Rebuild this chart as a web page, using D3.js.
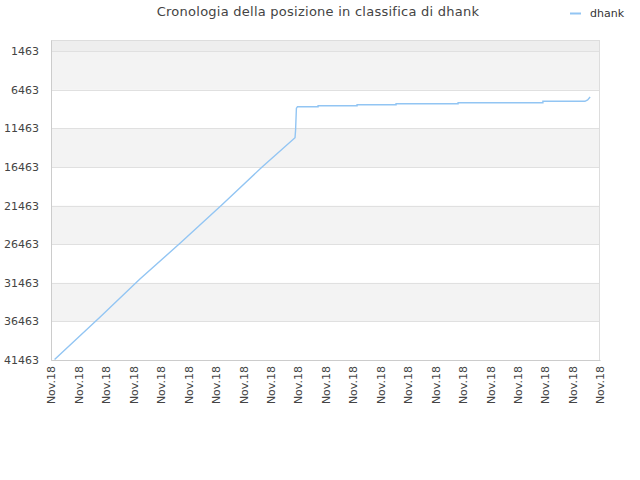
<!DOCTYPE html>
<html>
<head>
<meta charset="utf-8">
<script src="https://cdn.jsdelivr.net/npm/d3@7"></script>
<style>
  body { margin: 0; background: #fff; }
  text { font-family: "DejaVu Sans", sans-serif; }
</style>
</head>
<body>
<div id="chart"></div>
<script>
// chart values
var title = "Cronologia della posizione in classifica di dhank";
var seriesName = "dhank";
var xTickLabels = ["Nov.18","Nov.18","Nov.18","Nov.18","Nov.18","Nov.18","Nov.18",
  "Nov.18","Nov.18","Nov.18","Nov.18","Nov.18","Nov.18","Nov.18","Nov.18",
  "Nov.18","Nov.18","Nov.18","Nov.18","Nov.18","Nov.18"];
var yTicks = [1463, 6463, 11463, 16463, 21463, 26463, 31463, 36463, 41463];
// x position in tick units, rank value
var pointX = [0.13, 1.79, 3.24, 4.70, 6.22, 7.68, 8.89, 8.91, 8.94, 8.98,
  9.73, 9.73, 11.15, 11.15, 12.57, 12.57, 14.83, 14.83, 17.92, 17.92, 19.45, 19.55, 19.64];
var pointRank = [41400, 35890, 30970, 26340, 21380, 16490, 12660, 11700, 8850, 8643,
  8643, 8513, 8513, 8383, 8383, 8254, 8254, 8124, 8124, 7943, 7943, 7775, 7386];

var width = 640, height = 480;
var margin = {top: 40, right: 40, bottom: 120, left: 51};

var svg = d3.select("#chart").append("svg")
  .attr("width", width)
  .attr("height", height);

var x = d3.scaleLinear()
  .domain([0, xTickLabels.length - 1])
  .range([margin.left, width - margin.right]);

var y = d3.scaleLinear()
  .domain([1, 41463])
  .range([margin.top, height - margin.bottom]);

//alternating background bands
var bands = [];
for (var i = 0; i < yTicks.length - 1; i++) {
  bands.push({from: yTicks[i], to: yTicks[i + 1], fill: i % 2 == 0 ? "#f3f3f3" : "#ffffff"});
}
svg.append("rect")
  .attr("x", margin.left)
  .attr("y", y(1))
  .attr("width", x.range()[1] - x.range()[0])
  .attr("height", y(yTicks[0]) - y(1))
  .attr("fill", "#eeeeee");
svg.selectAll("rect.band")
  .data(bands)
  .enter()
  .append("rect")
  .attr("class", "band")
  .attr("x", margin.left)
  .attr("y", d => y(d.from))
  .attr("width", x.range()[1] - x.range()[0])
  .attr("height", d => y(d.to) - y(d.from))
  .attr("fill", d => d.fill);

//grid lines
svg.selectAll("line.grid")
  .data(yTicks)
  .enter()
  .append("line")
  .attr("class", "grid")
  .attr("x1", margin.left)
  .attr("x2", x.range()[1])
  .attr("y1", d => Math.round(y(d)) + 0.5)
  .attr("y2", d => Math.round(y(d)) + 0.5)
  .attr("stroke", "#e0e0e0")
  .attr("stroke-width", 1);

//frame
svg.append("rect")
  .attr("x", margin.left + 0.5)
  .attr("y", margin.top + 0.5)
  .attr("width", x.range()[1] - x.range()[0] - 1)
  .attr("height", y.range()[1] - y.range()[0])
  .attr("fill", "none")
  .attr("stroke", "#dddddd");

//y axis
var yAxis = d3.axisLeft(y).tickValues(yTicks).tickSize(0).tickPadding(12).tickFormat(d => d);
var gy = svg.append("g")
  .attr("transform", "translate(" + margin.left + ",0)")
  .call(yAxis);
gy.select(".domain").attr("stroke", "#cccccc");
gy.selectAll("text").attr("fill", "#444").attr("font-size", 11).attr("font-family", "DejaVu Sans");

//x axis
var xAxis = d3.axisBottom(x)
  .tickValues(d3.range(xTickLabels.length))
  .tickSize(0)
  .tickFormat((d, i) => xTickLabels[i]);
var gx = svg.append("g")
  .attr("transform", "translate(0," + y.range()[1] + ")")
  .call(xAxis);
gx.select(".domain").attr("stroke", "#cccccc");
gx.selectAll("text")
  .attr("fill", "#444")
  .attr("font-size", 11)
  .attr("font-family", "DejaVu Sans")
  .attr("text-anchor", "end")
  .attr("transform", "rotate(-90)")
  .attr("x", -6)
  .attr("y", 0)
  .attr("dy", "0.35em");

//series line
var points = pointX.map((d, i) => [d, pointRank[i]]);
var line = d3.line()
  .x(d => x(d[0]))
  .y(d => y(d[1]));
svg.append("path")
  .attr("d", line(points))
  .attr("fill", "none")
  .attr("stroke", "#92c5f3")
  .attr("stroke-width", 1.4);

//title
svg.append("text")
  .attr("x", 318)
  .attr("y", 16)
  .attr("text-anchor", "middle")
  .attr("fill", "#444")
  .attr("font-size", 13)
  .attr("letter-spacing", 0.25)
  .text(title);

//legend
svg.append("line")
  .attr("x1", 570).attr("x2", 581)
  .attr("y1", 13.5).attr("y2", 13.5)
  .attr("stroke", "#92c5f3")
  .attr("stroke-width", 2);
svg.append("text")
  .attr("x", 590)
  .attr("y", 17)
  .attr("fill", "#333")
  .attr("font-size", 11)
  .text(seriesName);
</script>
</body>
</html>
